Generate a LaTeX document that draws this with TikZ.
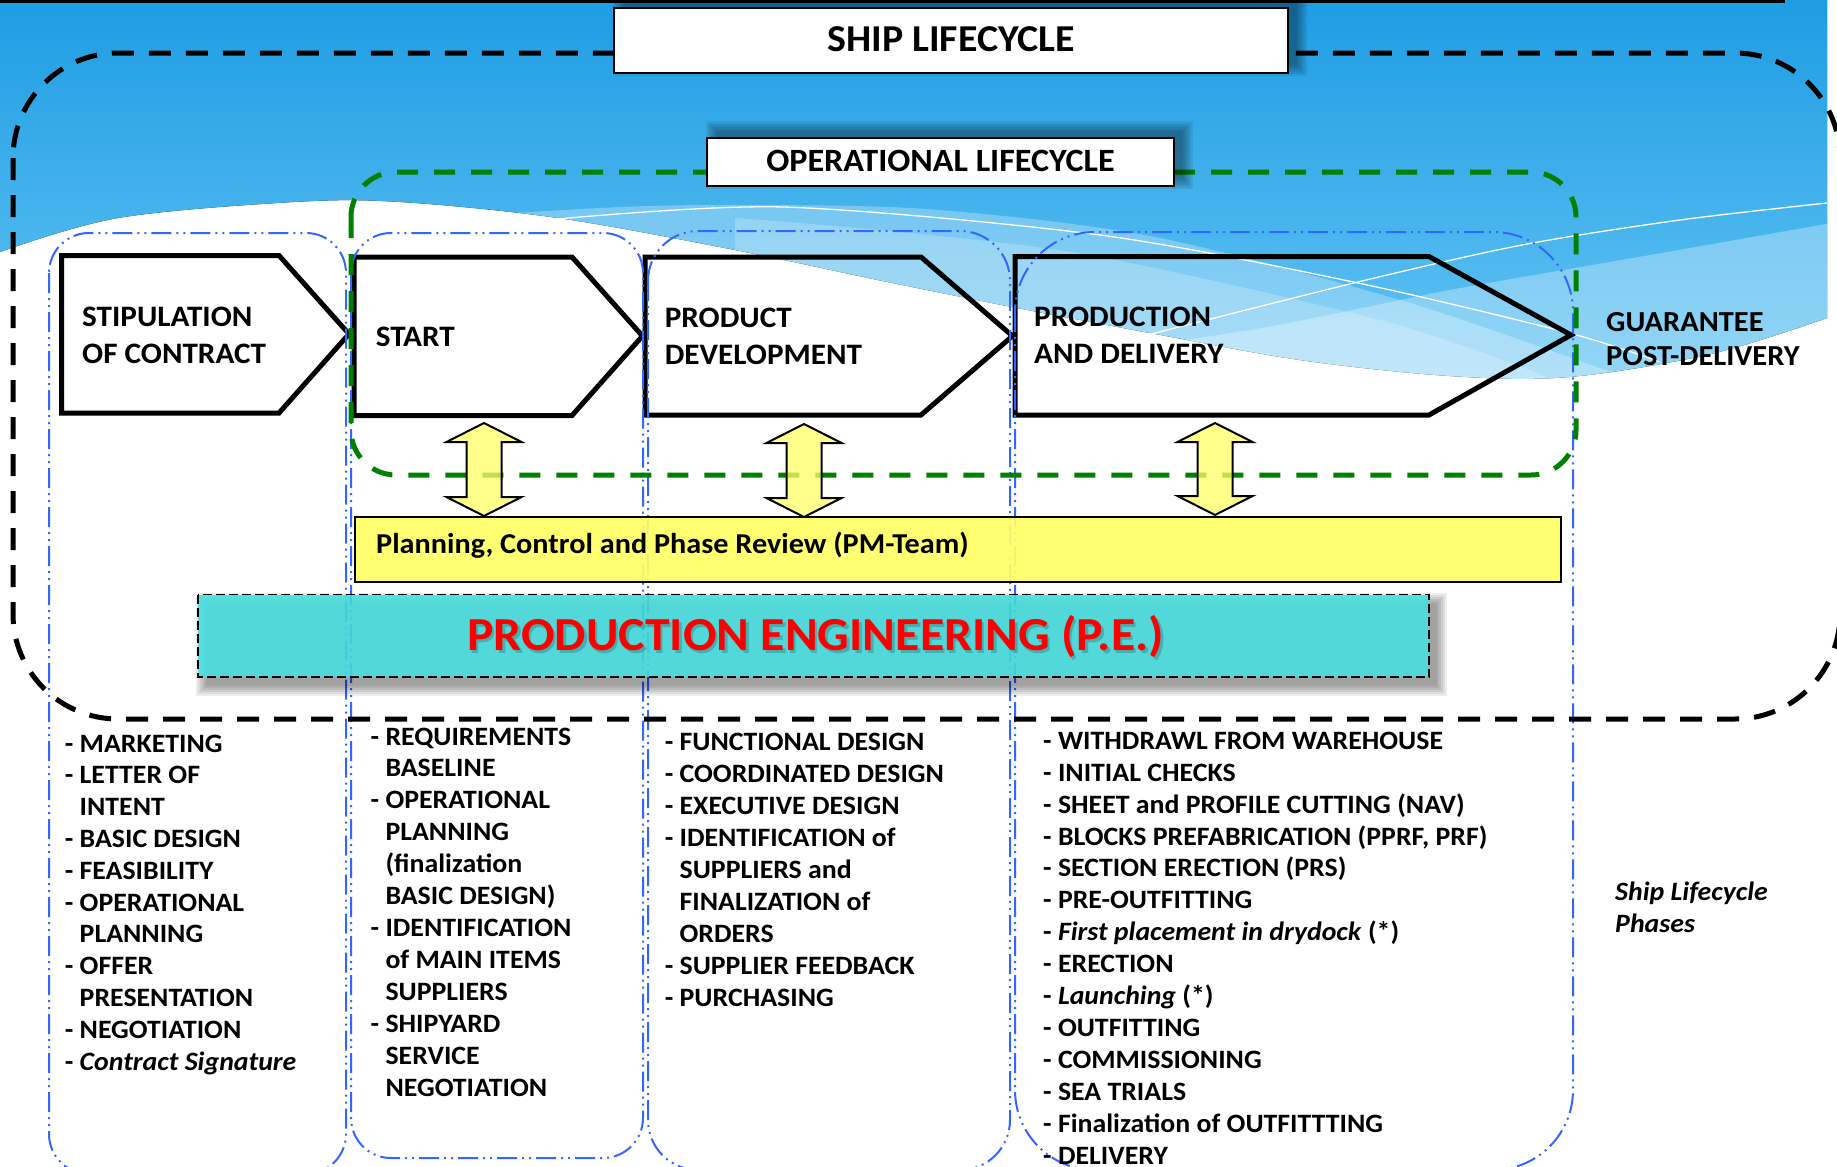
\documentclass[tikz,border=0pt]{standalone}
\usepackage{fontspec}
\setmainfont{Carlito}[FakeStretch=1.05]
\usetikzlibrary{calc}

\definecolor{skytop}{RGB}{30,157,227}
\definecolor{skybot}{RGB}{100,196,244}
\definecolor{phaseblue}{RGB}{51,102,255}
\definecolor{opgreen}{RGB}{0,128,0}
\definecolor{pmyellow}{RGB}{255,255,102}
\definecolor{pecyan}{RGB}{72,224,224}
\definecolor{pered}{RGB}{255,0,0}

% list markers: a dash, or an empty gap of the same width for wrapped lines
\newcommand\lsdash{-\ }
\newcommand\lsgap{\phantom{-\ }}

% outline of the sky area above the white wave
\newcommand\skypath{(0,0) -- (1827,0) -- plot[smooth, tension=0.55] coordinates {(1827,318) (1711,354) (1569,377) (1450,376) (1300,360) (1150,333) (1012,307) (878,280) (735,250) (558,218) (400,202) (294,202) (118,218) (0,252)} -- cycle}

% soft shadow: x1 y1 x2 y2 colour
\newcommand\softshadow[5]{%
  \foreach \k in {0,...,5}{\fill[#5, opacity=0.07] (#1-\k*2,#2-\k*2) rectangle (#3+\k*2,#4+\k*2);}}

% vertical double arrow: centre x, top y, bottom y
\newcommand\dblarrow[3]{%
  \filldraw[pmarrow] (#1,#2) -- (#1+37.5,#2+19) -- (#1+17.5,#2+19) -- (#1+17.5,#3-19)
    -- (#1+37.5,#3-19) -- (#1,#3) -- (#1-37.5,#3-19) -- (#1-17.5,#3-19)
    -- (#1-17.5,#2+19) -- (#1-37.5,#2+19) -- cycle;}

\tikzset{
  phasebox/.style={draw=phaseblue, line width=2pt, dash pattern=on 20pt off 5pt on 2pt off 5pt on 2pt off 5pt},
  shipline/.style={draw=black, line width=5pt, dash pattern=on 22pt off 15pt},
  opline/.style={draw=opgreen, line width=5pt, dash pattern=on 21pt off 16pt},
  chevron/.style={draw=black, line width=5pt, line join=miter},
  pmarrow/.style={draw=black, line width=2pt, fill=pmyellow, fill opacity=0.75, line join=miter},
  pmbar/.style={draw=black, line width=2pt, fill=pmyellow, fill opacity=0.92},
  pebox/.style={draw=black, line width=1.6pt, dash pattern=on 9pt off 4pt, fill=pecyan, fill opacity=0.88},
  titlebox/.style={draw=black, line width=2pt, fill=white},
  chevtxt/.style={font=\bfseries\fontsize{29.7}{35}\selectfont, anchor=base west, inner sep=0pt},
  listtxt/.style={font=\bfseries\fontsize{26.5}{32}\selectfont, anchor=base west, inner sep=0pt},
}

\begin{document}
\begin{tikzpicture}[x=1pt, y=-1pt]
\useasboundingbox (0,0) rectangle (1837,1167);
\clip (0,0) rectangle (1837,1167);
\fill[white] (0,0) rectangle (1837,1167);

% sky with translucent waves
\fill[top color=skytop, bottom color=skybot] \skypath;
\begin{scope}
  \clip \skypath;
  \fill[white, opacity=0.28] plot[smooth] coordinates {(500,214) (620,207) (735,205) (926,209) (1150,236) (1400,300) (1600,368) (1750,420)} -- (1837,600) -- (500,600) -- cycle;
  \fill[white, opacity=0.22] plot[smooth] coordinates {(735,218) (900,232) (1100,257) (1391,323) (1550,378)} -- (1550,600) -- (735,600) -- cycle;
  \fill[white, opacity=0.30] plot[smooth] coordinates {(1000,365) (1250,330) (1450,290) (1650,255) (1837,222)} -- (1837,600) -- (1000,600) -- cycle;
\end{scope}
\draw[white, line width=1.3pt] plot[smooth] coordinates {(558,219) (783,207) (1100,235) (1358,283) (1569,333) (1660,362)};
\draw[white, line width=1.3pt] plot[smooth] coordinates {(1128,340) (1358,282) (1522,245) (1680,220) (1827,203)};
\fill[black] (0,0) rectangle (1785,3);

% phase chevrons
\draw[chevron] (61.5,255.5) -- (279,255.5) -- (349,334) -- (279,413) -- (61.5,413) -- cycle;
\draw[chevron] (354,257) -- (572,257) -- (642.5,336) -- (572,415.5) -- (354,415.5) -- cycle;
\draw[chevron] (645,257) -- (921,257) -- (1012.5,336) -- (921,415) -- (645,415) -- cycle;
\draw[chevron] (1015,256.5) -- (1429,256.5) -- (1571,335) -- (1429,415) -- (1015,415) -- cycle;

% phase columns
\draw[phasebox, rounded corners=40pt] (49,233) rectangle (346,1174);
\draw[phasebox, rounded corners=40pt] (351,233) rectangle (643,1158);
\draw[phasebox, rounded corners=50pt] (648,231) rectangle (1010,1170);
\draw[phasebox, rounded corners=80pt] (1015,232) rectangle (1573,1170);

% lifecycle boundaries
\draw[shipline, rounded corners=105pt] (13,53) rectangle (1840,719);
\draw[opline, rounded corners=45pt] (351,172) rectangle (1576,475);

% links to the PM team
\dblarrow{484}{423}{516}
\dblarrow{804}{424}{517}
\dblarrow{1215}{423}{515}

\draw[pmbar] (355,517) rectangle (1561,582);
\node[font=\bfseries\fontsize{28.8}{34}\selectfont, anchor=base west, inner sep=0pt] (pm) at (376,553) {Planning, Control and Phase Review (PM-Team)};

% production engineering band
\softshadow{206}{603}{1437}{686}{black}
\draw[pebox] (198,594.5) rectangle (1429,677);
\node[font=\bfseries\fontsize{47.4}{50}\selectfont, text=black, opacity=0.18, anchor=base west, inner sep=0pt] (peshade) at (469.5,653) {PRODUCTION ENGINEERING (P.E.)};
\node[font=\bfseries\fontsize{47.4}{50}\selectfont, text=pered, anchor=base west, inner sep=0pt] (pe) at (467,650) {PRODUCTION ENGINEERING (P.E.)};

% titles
\softshadow{623}{1.3}{1297}{65.7}{black}
\draw[titlebox] (614,8.3) rectangle (1288,72.7);
\node[font=\bfseries\fontsize{38}{40}\selectfont, anchor=base, inner sep=0pt] (ship) at (951,51.7) {SHIP LIFECYCLE};
\softshadow{716}{131}{1183}{179}{black}
\draw[titlebox] (707,138) rectangle (1174,186);
\node[font=\bfseries\fontsize{32.5}{36}\selectfont, anchor=base, inner sep=0pt] (oper) at (940.5,171.7) {OPERATIONAL LIFECYCLE};

% chevron labels
\node[chevtxt] (c1a) at (82,326) {STIPULATION};
\node[chevtxt] (c1b) at (82,363.3) {OF CONTRACT};
\node[chevtxt] (c2a) at (375.6,346.7) {START};
\node[chevtxt] (c3a) at (664.6,327.7) {PRODUCT};
\node[chevtxt] (c3b) at (664.6,364.3) {DEVELOPMENT};
\node[chevtxt] (c4a) at (1034,326.7) {PRODUCTION};
\node[chevtxt] (c4b) at (1034,363.3) {AND DELIVERY};
\node[chevtxt, font=\bfseries\fontsize{29}{35}\selectfont] (g1) at (1606,331.7) {GUARANTEE};
\node[chevtxt, font=\bfseries\fontsize{29}{35}\selectfont] (g2) at (1606,365.7) {POST-DELIVERY};

% activities of each phase
\foreach \t [count=\i from 0] in {{\lsdash MARKETING},{\lsdash LETTER OF},{\lsgap INTENT},{\lsdash BASIC DESIGN},{\lsdash FEASIBILITY},{\lsdash OPERATIONAL},{\lsgap PLANNING},{\lsdash OFFER},{\lsgap PRESENTATION},{\lsdash NEGOTIATION},{\lsdash \textit{Contract Signature}}}
  \node[listtxt] (a\i) at (64.7,752+\i*31.8) {\t};

\foreach \t [count=\i from 0] in {{\lsdash REQUIREMENTS},{\lsgap BASELINE},{\lsdash OPERATIONAL},{\lsgap PLANNING},{\lsgap (finalization},{\lsgap BASIC DESIGN)},{\lsdash IDENTIFICATION},{\lsgap of MAIN ITEMS},{\lsgap SUPPLIERS},{\lsdash SHIPYARD},{\lsgap SERVICE},{\lsgap NEGOTIATION}}
  \node[listtxt] (b\i) at (370.5,745+\i*31.97) {\t};

\foreach \t [count=\i from 0] in {{\lsdash FUNCTIONAL DESIGN},{\lsdash COORDINATED DESIGN},{\lsdash EXECUTIVE DESIGN},{\lsdash IDENTIFICATION of},{\lsgap SUPPLIERS and},{\lsgap FINALIZATION of},{\lsgap ORDERS},{\lsdash SUPPLIER FEEDBACK},{\lsdash PURCHASING}}
  \node[listtxt] (d\i) at (664.6,750+\i*32) {\t};

\foreach \t [count=\i from 0] in {{\lsdash WITHDRAWL FROM WAREHOUSE},{\lsdash INITIAL CHECKS},{\lsdash SHEET and PROFILE CUTTING (NAV)},{\lsdash BLOCKS PREFABRICATION (PPRF, PRF)},{\lsdash SECTION ERECTION (PRS)},{\lsdash PRE-OUTFITTING},{\lsdash \textit{First placement in drydock} (*)},{\lsdash ERECTION},{\lsdash \textit{Launching} (*)},{\lsdash OUTFITTING},{\lsdash COMMISSIONING},{\lsdash SEA TRIALS},{\lsdash Finalization of OUTFITTTING},{\lsdash DELIVERY}}
  \node[listtxt] (e\i) at (1043,749.3+\i*31.9) {\t};

\node[listtxt, font=\bfseries\itshape\fontsize{26.5}{32}\selectfont] (ph1) at (1615,900) {Ship Lifecycle};
\node[listtxt, font=\bfseries\itshape\fontsize{26.5}{32}\selectfont] (ph2) at (1615,932) {Phases};
\end{tikzpicture}
\end{document}
